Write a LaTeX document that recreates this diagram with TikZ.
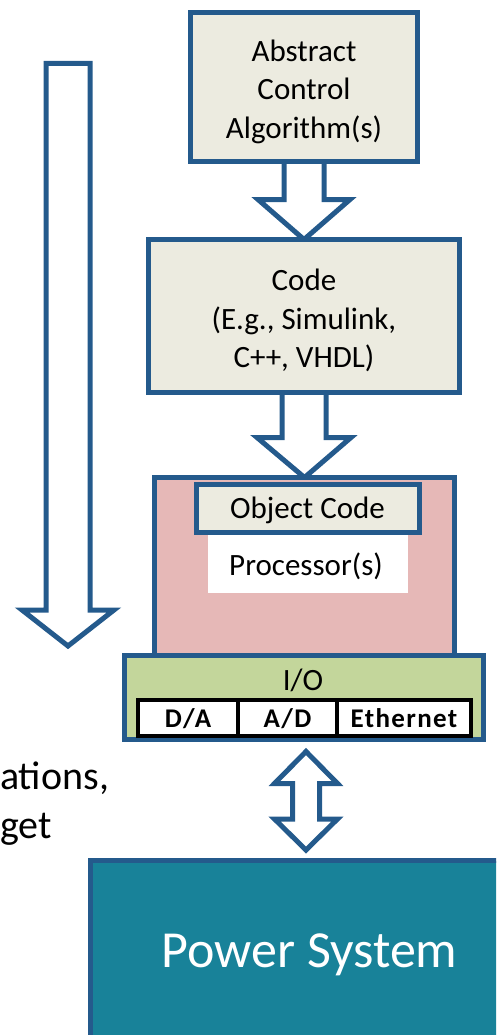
\documentclass[tikz,border=0pt]{standalone}
\usepackage{fontspec}
\setmainfont{Carlito}
\usetikzlibrary{calc,backgrounds}

\definecolor{edgeblue}{RGB}{36,90,140}
\definecolor{boxbeige}{RGB}{236,235,224}
\definecolor{procpink}{RGB}{230,184,183}
\definecolor{iogreen}{RGB}{195,214,155}
\definecolor{psteal}{RGB}{24,130,153}

\begin{document}
\begin{tikzpicture}[x=1pt,y=-1pt,
  blk/.style={draw=edgeblue, line width=5pt, rectangle, inner sep=0pt, outer sep=0pt},
  blockarrow/.style={draw=edgeblue, line width=5pt, fill=white, line join=miter},
  lbl/.style={font=\fontsize{31}{38.5}\selectfont, align=center, inner sep=0pt},
  cell/.style={draw=black, line width=4pt, fill=white, rectangle, minimum height=36pt,
    inner sep=0pt, outer sep=0pt, text height=18pt, text depth=0pt,
    font=\fontsize{27}{30}\selectfont\bfseries\addfontfeature{LetterSpace=5}},
  sidetext/.style={font=\fontsize{40}{49}\selectfont, inner sep=0pt},
]
\useasboundingbox (0,0) rectangle (496,1035);
\clip (0,0) rectangle (496,1035);

% design flow boxes
\node[blk, fill=boxbeige, minimum width=227pt, minimum height=149pt] (algo) at (304,87) {};
\node[lbl] (algotext) at (304,91.5) {Abstract\\Control\\Algorithm(s)};

\node[blk, fill=boxbeige, minimum width=311pt, minimum height=153pt] (code) at (304,316) {};
\node[lbl] (codetext) at (304,320.5) {Code\\(E.g., Simulink,\\C++, VHDL)};

% target hardware
\node[blk, fill=procpink, minimum width=300pt, minimum height=179pt] (proc) at (304.5,567) {};
\node[blk, fill=boxbeige, minimum width=223pt, minimum height=48pt] (obj) at (308,508.5) {};
\node[lbl, anchor=base] (objtext) at (307.5,518) {Object Code};
\node[fill=white, minimum width=200pt, minimum height=58pt, inner sep=0pt] (procw) at (308,564) {};
\node[lbl, anchor=base] (proctext) at (306,575) {Processor(s)};

\node[blk, fill=iogreen, minimum width=359pt, minimum height=84pt] (io) at (304,697.5) {};
\node[lbl, anchor=base] (iotext) at (303,690) {I/O};
\node[cell, minimum width=100pt] (da) at (188,718) {D/A};
\node[cell, minimum width=99pt] (ad) at (287.5,718) {A/D};
\node[cell, minimum width=134pt] (eth) at (404,718) {Ethernet};

% plant
\node[blk, fill=psteal, minimum width=430pt, minimum height=200pt] (ps) at (305.5,960.5) {};
\node[font=\fontsize{52}{62}\selectfont, text=white, anchor=base, inner sep=0pt] (pstext) at (309.5,967) {Power System};

% side note
\node[sidetext, anchor=base west] (note1) at (0,789) {ations,};
\node[sidetext, anchor=base west] (note2) at (0,838) {get};

% block arrows between the stages
\begin{scope}[on background layer]
  \draw[blockarrow] ($(algo.south)+(-20,0)$) -- ($(algo.south)+(-20,38)$)
    -- ($(algo.south)+(-46,38)$) -- (code.north) -- ($(algo.south)+(46,38)$)
    -- ($(algo.south)+(20,38)$) -- ($(algo.south)+(20,0)$);
  \draw[blockarrow] ($(code.south)+(-22,0)$) -- ($(code.south)+(-22,45)$)
    -- ($(code.south)+(-47,45)$) -- (proc.north) -- ($(code.south)+(47,45)$)
    -- ($(code.south)+(22,45)$) -- ($(code.south)+(22,0)$);
\end{scope}

\coordinate (dtop) at ($(io.south)+(2,12)$);
\coordinate (dbot) at ($(ps.north)+(0.5,-10.5)$);
\draw[blockarrow] (dtop) -- ($(dtop)+(31.5,32)$) -- ($(dtop)+(13.5,32)$)
  -- ($(dbot)+(13.5,-31)$) -- ($(dbot)+(31.5,-31)$) -- (dbot)
  -- ($(dbot)+(-31.5,-31)$) -- ($(dbot)+(-13.5,-31)$)
  -- ($(dtop)+(-13.5,32)$) -- ($(dtop)+(-31.5,32)$) -- cycle;

% long downward arrow on the left
\draw[blockarrow] (46,63.5) -- (46,610) -- (22,610) -- (68,646) -- (114,610)
  -- (90,610) -- (90,63.5) -- cycle;
\end{tikzpicture}
\end{document}
